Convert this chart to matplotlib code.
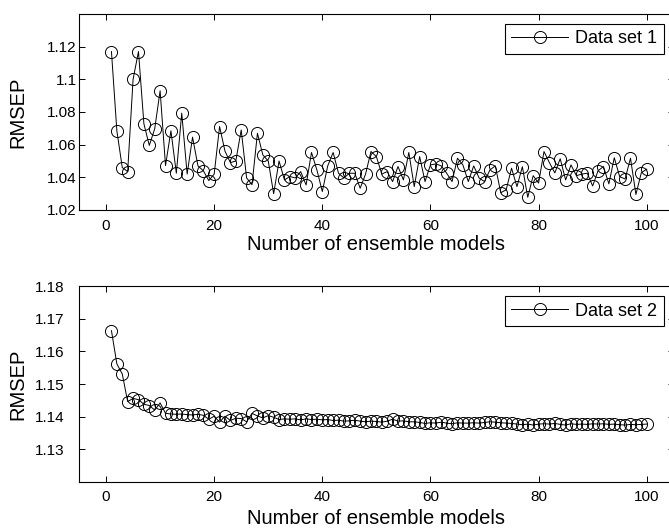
import numpy as np
import matplotlib
matplotlib.use("Agg")
import matplotlib.pyplot as plt

# Number of ensemble models (1..100)
n_models = list(range(1, 101))

# RMSEP, data set 1
rmsep_set1 = [
    1.117, 1.0685, 1.046, 1.0435, 1.100, 1.117, 1.0728, 1.0595, 1.0697, 1.093,
    1.0472, 1.0685, 1.0425, 1.0793, 1.042, 1.0646, 1.047, 1.044, 1.038, 1.042,
    1.0711, 1.056, 1.049, 1.050, 1.069, 1.0396, 1.0355, 1.067, 1.0537, 1.050,
    1.030, 1.050, 1.0384, 1.0405, 1.0396, 1.0435, 1.0353, 1.0552, 1.0445, 1.0313,
    1.047, 1.0552, 1.0425, 1.0396, 1.0425, 1.0425, 1.0333, 1.042, 1.0558, 1.0527,
    1.042, 1.0435, 1.0374, 1.0466, 1.0384, 1.0552, 1.0343, 1.0527, 1.0374, 1.0476,
    1.0482, 1.047, 1.0425, 1.0374, 1.0517, 1.0476, 1.0374, 1.047, 1.0396, 1.0374,
    1.0445, 1.047, 1.0306, 1.0323, 1.0456, 1.0343, 1.0465, 1.0278, 1.041, 1.0365,
    1.0558, 1.049, 1.0427, 1.0514, 1.0384, 1.0476, 1.041, 1.042, 1.0425, 1.0347,
    1.044, 1.0466, 1.036, 1.052, 1.0404, 1.039, 1.0517, 1.0295, 1.0428, 1.045,
]

# RMSEP, data set 2
rmsep_set2 = [
    1.1664, 1.1562, 1.1531, 1.1446, 1.1456, 1.1452, 1.1438, 1.1434, 1.1420, 1.1442,
    1.1410, 1.1408, 1.1407, 1.1408, 1.1406, 1.1405, 1.1407, 1.1404, 1.1392, 1.1401,
    1.1383, 1.1401, 1.1388, 1.1395, 1.1394, 1.1384, 1.1410, 1.1402, 1.1396, 1.1403,
    1.1398, 1.1391, 1.1393, 1.1392, 1.1393, 1.1390, 1.1393, 1.1391, 1.1392, 1.1390,
    1.1391, 1.1388, 1.1389, 1.1386, 1.1387, 1.1389, 1.1386, 1.1384, 1.1386, 1.1385,
    1.1383, 1.1386, 1.1392, 1.1386, 1.1387, 1.1384, 1.1384, 1.1382, 1.1379, 1.1381,
    1.1380, 1.1383, 1.1380, 1.1378, 1.1381, 1.1380, 1.1380, 1.1381, 1.1380, 1.1382,
    1.1384, 1.1383, 1.1381, 1.1380, 1.1379, 1.1377, 1.1375, 1.1377, 1.1374, 1.1377,
    1.1378, 1.1377, 1.1379, 1.1376, 1.1374, 1.1378, 1.1376, 1.1377, 1.1376, 1.1378,
    1.1377, 1.1378, 1.1376, 1.1377, 1.1375, 1.1374, 1.1376, 1.1375, 1.1376, 1.1377,
]

x_ticks = [0, 20, 40, 60, 80, 100]
y_ticks_1 = [1.02, 1.04, 1.06, 1.08, 1.10, 1.12]
y_labels_1 = ["1.02", "1.04", "1.06", "1.08", "1.1", "1.12"]
y_ticks_2 = [1.13, 1.14, 1.15, 1.16, 1.17, 1.18]
y_labels_2 = ["1.13", "1.14", "1.15", "1.16", "1.17", "1.18"]

plt.rcParams["font.family"] = ["Liberation Sans", "DejaVu Sans"]

fig = plt.figure(figsize=(6.69, 5.28), dpi=100)
ax1 = fig.add_axes([0.1181, 0.6023, 0.889, 0.3712])
ax2 = fig.add_axes([0.1181, 0.0877, 0.889, 0.3699])


def style_panel(ax, values, ylim, yticks, ylabels, label, ypad, xlab_y):
    ax.plot(n_models, values, color="black", linewidth=0.7,
            marker="o", markersize=8.7, markerfacecolor="none",
            markeredgecolor="black", markeredgewidth=0.7, label=label)
    ax.set_xlim(-5, 105)
    ax.set_ylim(*ylim)
    ax.set_xticks(x_ticks)
    ax.set_yticks(yticks)
    ax.set_yticklabels(ylabels)
    ax.tick_params(direction="in", top=True, right=True, length=4,
                   width=0.7, labelsize=11)
    ax.tick_params(axis="x", pad=6.3)
    ax.tick_params(axis="y", pad=ypad)
    for s in ax.spines.values():
        s.set_linewidth(0.8)
    ax.set_xlabel("Number of ensemble models", fontsize=14.5)
    ax.xaxis.label.set_verticalalignment("center")
    ax.xaxis.set_label_coords(0.5, xlab_y)
    ax.set_ylabel("RMSEP", fontsize=14.5)
    ax.yaxis.label.set_verticalalignment("center")
    ax.yaxis.set_label_coords(-0.1025, 0.5)
    leg = ax.legend(loc="upper right", fontsize=13, handlelength=3.15,
                    fancybox=False, framealpha=1, edgecolor="black",
                    borderpad=0.35, borderaxespad=0.55, handletextpad=0.4)
    leg.get_frame().set_linewidth(0.8)


style_panel(ax1, rmsep_set1, (1.02, 1.14), y_ticks_1, y_labels_1,
            "Data set 1", 1.5, -0.1786)
style_panel(ax2, rmsep_set2, (1.12, 1.18), y_ticks_2, y_labels_2,
            "Data set 2", 10.8, -0.186)

fig.savefig("out.png", dpi=100)
